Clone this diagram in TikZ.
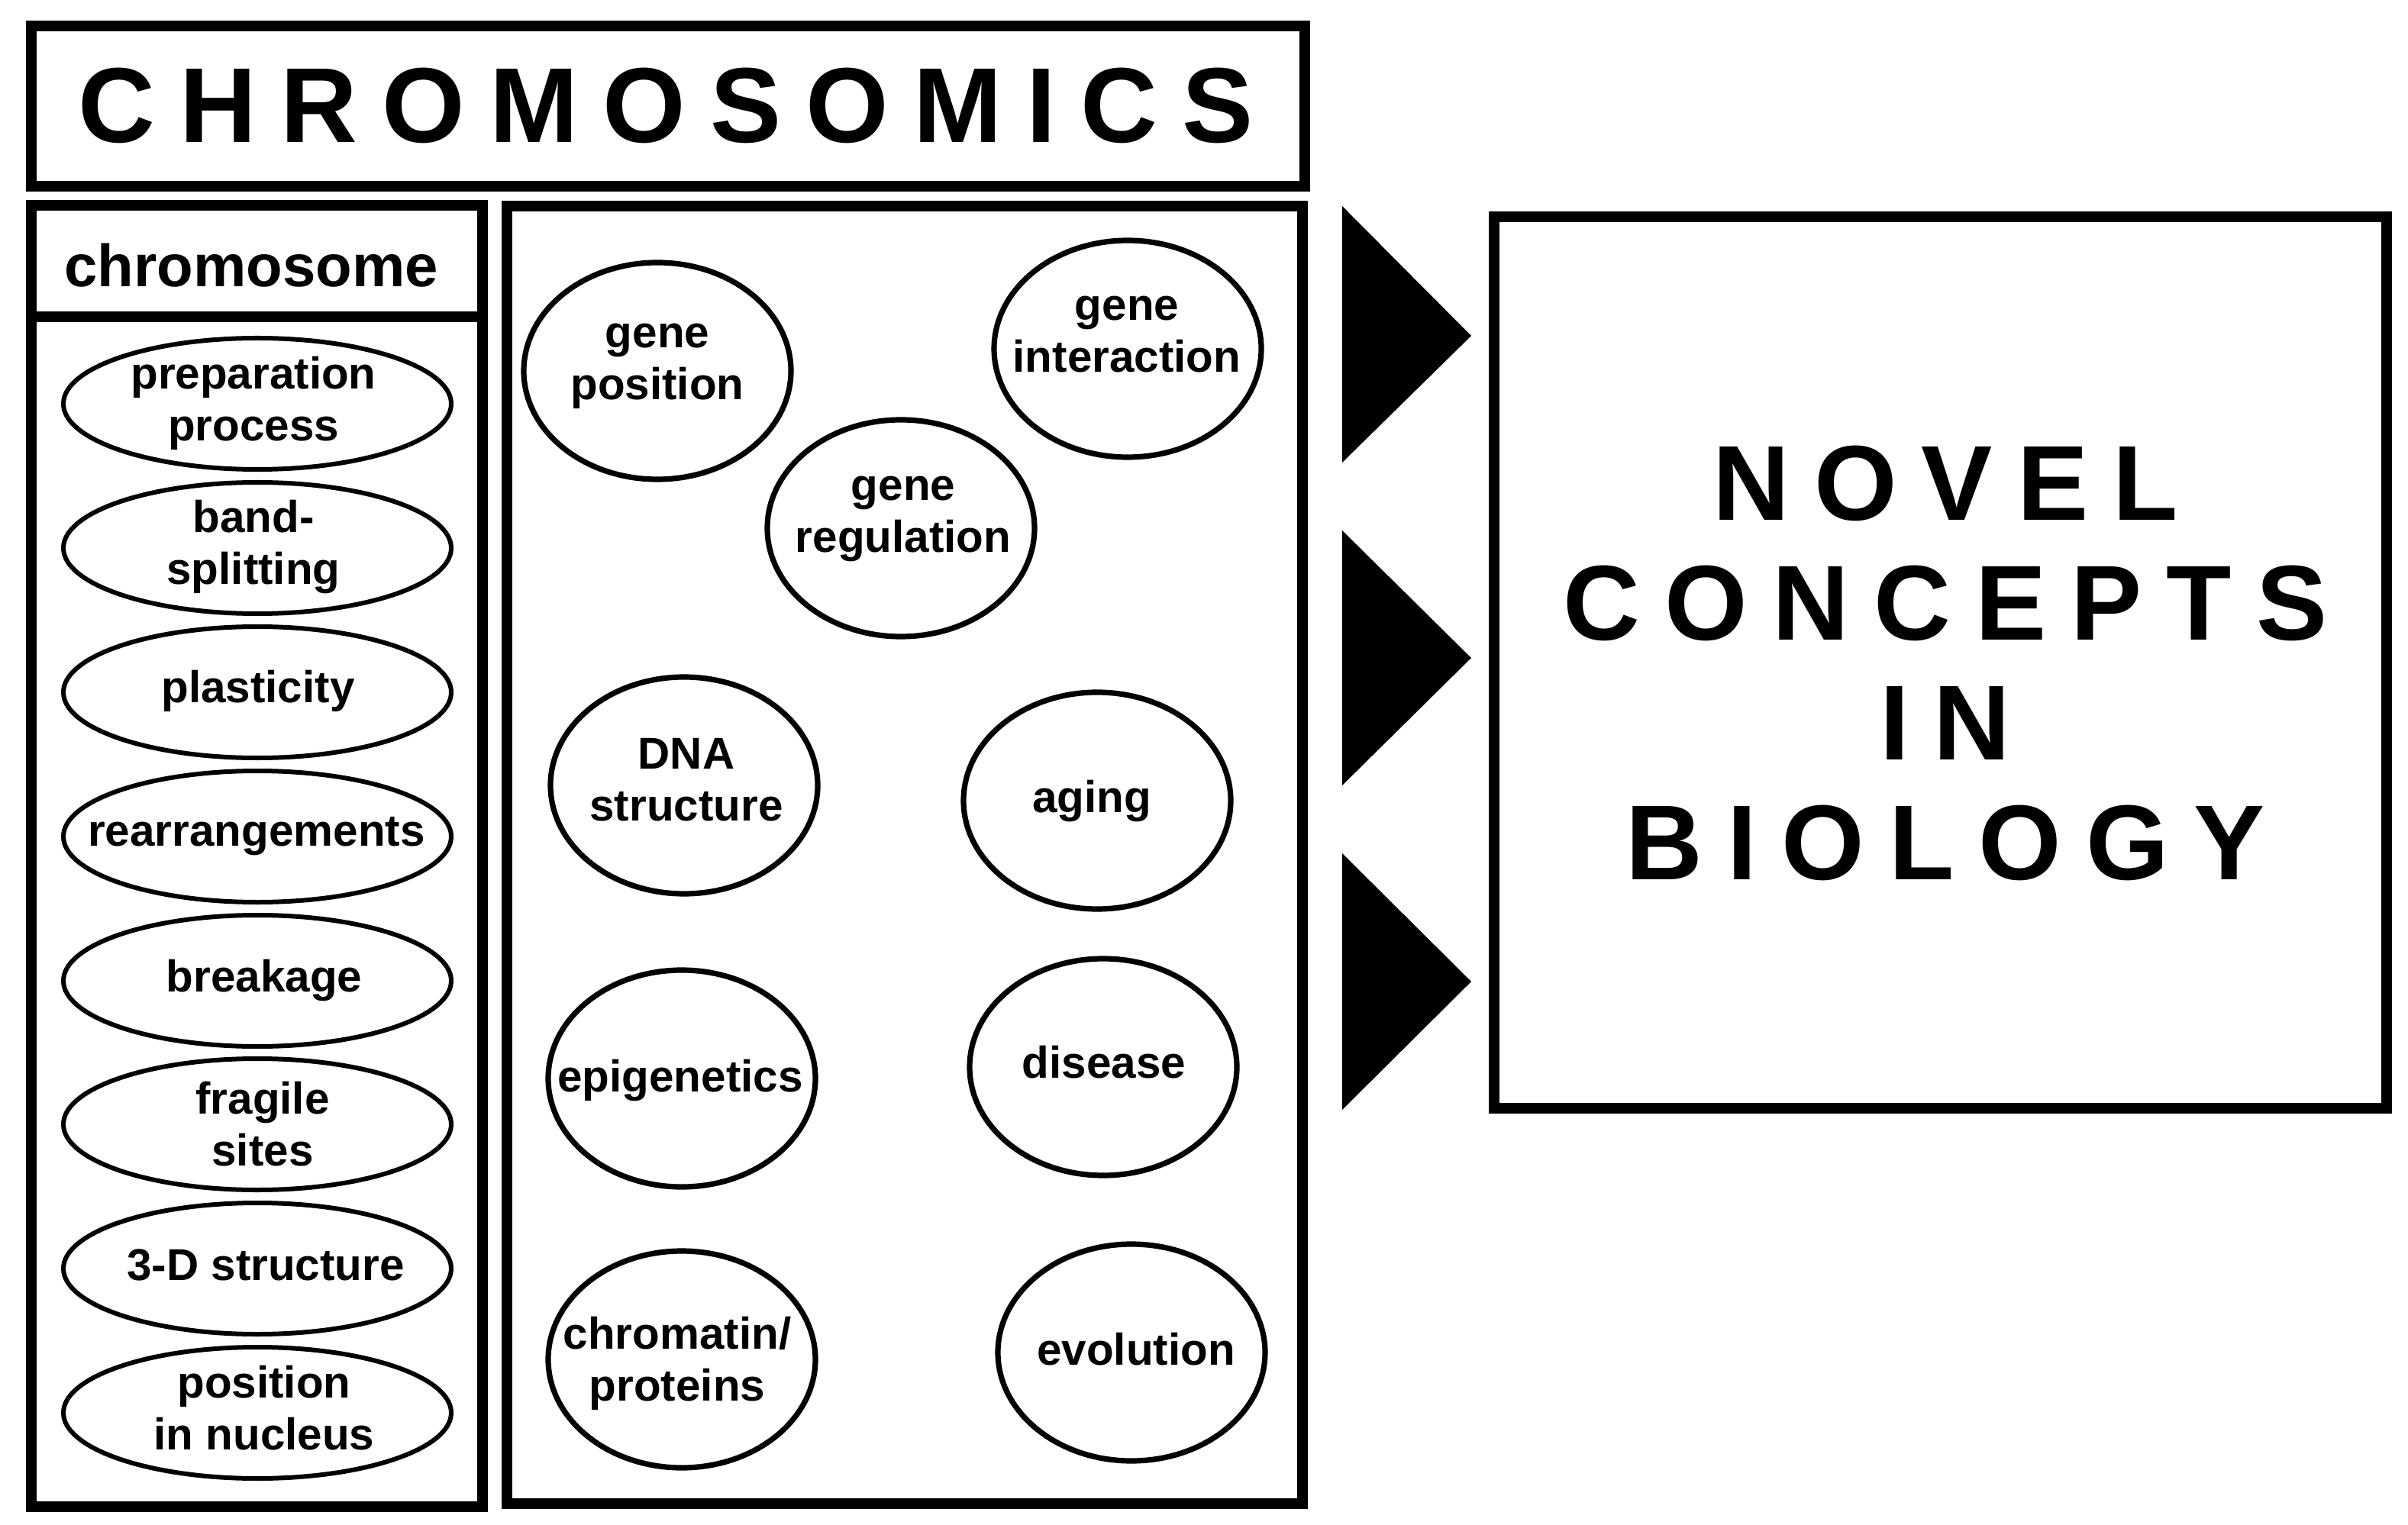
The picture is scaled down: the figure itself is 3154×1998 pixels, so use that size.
\documentclass[tikz,border=0pt]{standalone}
\usepackage{fontspec}
\setmainfont{Liberation Sans}
\newfontfamily\widefont[LetterSpace=23]{Liberation Sans}
\tikzset{heavy frame/.style={line width=3.5pt}}
\tikzset{item line/.style={line width=1.5pt}}
\tikzset{bubble line/.style={line width=1.8pt}}
\tikzset{item label/.style={font=\fontsize{14.6}{17}\selectfont\bfseries, align=center, inner sep=0}}
\tikzset{head label/.style={font=\fontsize{19.5}{22}\selectfont\bfseries, inner sep=0}}
\tikzset{big label/.style={font=\fontsize{34.9}{39.25}\selectfont\widefont\bfseries, align=center, inner sep=0}}

\begin{document}
\begin{tikzpicture}[x=0.25pt, y=-0.25pt]
      \useasboundingbox (0,0) rectangle (3154,1998);

      %タイトル
      \draw[heavy frame] (41,34) rectangle (1709,244);
      \node[big label] (title) at (872,138) {CHROMOSOMICS};

      %左の枠
      \draw[heavy frame] (41,269) rectangle (632,1974);
      \draw[heavy frame] (41,415.5) -- (632,415.5);
      \node[head label] (chrom) at (329,348) {chromosome};

      %左の楕円
      \draw[item line] (337,529) ellipse (63.5pt and 21.5pt);
      \node[item label] (prep) at (332,528) {preparation\\process};
      \draw[item line] (337,718) ellipse (63.5pt and 21.5pt);
      \node[item label] (band) at (332,717) {band-\\splitting};
      \draw[item line] (337,907) ellipse (63.5pt and 21.5pt);
      \node[item label] (plast) at (338,905) {plasticity};
      \draw[item line] (337,1096) ellipse (63.5pt and 21.5pt);
      \node[item label] (rearr) at (336,1096) {rearrangements};
      \draw[item line] (337,1285) ellipse (63.5pt and 21.5pt);
      \node[item label] (break) at (346,1285) {breakage};
      \draw[item line] (337,1473) ellipse (63.5pt and 21.5pt);
      \node[item label] (fragile) at (344,1473) {fragile\\sites};
      \draw[item line] (337,1662) ellipse (63.5pt and 21.5pt);
      \node[item label] (struct) at (348,1657) {3-D structure};
      \draw[item line] (337,1851) ellipse (63.5pt and 21.5pt);
      \node[item label] (nucleus) at (346,1845) {position\\in nucleus};

      %中央の枠
      \draw[heavy frame] (664,270) rectangle (1706,1970);

      %中央の円
      \draw[bubble line] (861,486) ellipse (43.75pt and 35.5pt);
      \node[item label] (gpos) at (861,480) {gene\\position};
      \draw[bubble line] (1477,457) ellipse (43.75pt and 35.5pt);
      \node[item label] (gint) at (1476,438) {gene\\interaction};
      \draw[bubble line] (1180,692) ellipse (43.75pt and 35.5pt);
      \node[item label] (greg) at (1183,680) {gene\\regulation};
      \draw[bubble line] (896,1029) ellipse (43.75pt and 35.5pt);
      \node[item label] (dna) at (899,1022) {DNA\\structure};
      \draw[bubble line] (1437,1049) ellipse (43.75pt and 35.5pt);
      \node[item label] (aging) at (1430,1050) {aging};
      \draw[bubble line] (893,1413) ellipse (43.75pt and 35.5pt);
      \node[item label] (epi) at (891,1416) {epigenetics};
      \draw[bubble line] (1445,1398) ellipse (43.75pt and 35.5pt);
      \node[item label] (disease) at (1446,1392) {disease};
      \draw[bubble line] (893,1781) ellipse (43.75pt and 35.5pt);
      \node[item label] (chromatin) at (887,1786) {chromatin/\\proteins};
      \draw[bubble line] (1482,1772) ellipse (43.75pt and 35.5pt);
      \node[item label] (evol) at (1488,1768) {evolution};

      %三角形
      \fill (1758,270) -- (1927,440) -- (1758,606) -- cycle;
      \fill (1758,695) -- (1927,862) -- (1758,1029) -- cycle;
      \fill (1758,1118) -- (1927,1286) -- (1758,1454) -- cycle;

      %右の枠
      \draw[heavy frame] (1957,284) rectangle (3126,1452);
      \node[big label] (novel) at (2548,869) {NOVEL\\CONCEPTS\\IN\\BIOLOGY};

    \end{tikzpicture}
\end{document}
